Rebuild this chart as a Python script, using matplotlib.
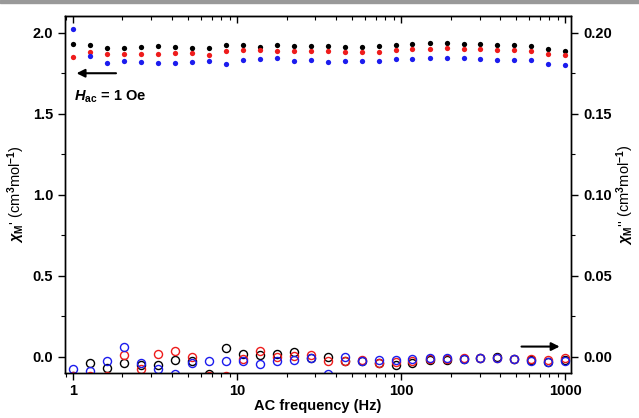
import numpy as np
import matplotlib
matplotlib.use("Agg")
import matplotlib.pyplot as plt
from matplotlib.ticker import MultipleLocator, FixedLocator, NullFormatter, LogLocator

plt.rcParams['font.family'] = ['Liberation Sans', 'DejaVu Sans']
plt.rcParams['font.weight'] = 'bold'
plt.rcParams['mathtext.fontset'] = 'custom'
plt.rcParams['mathtext.rm'] = 'Liberation Sans:bold'
plt.rcParams['mathtext.bf'] = 'Liberation Sans:bold'
plt.rcParams['mathtext.it'] = 'Liberation Sans:italic:bold'

# frequencies (Hz)
freq = [1, 1.27, 1.61, 2.04, 2.59, 3.29, 4.18, 5.30, 6.72, 8.53,
        10.8, 13.7, 17.4, 22.1, 28.1, 35.6, 45.2, 57.4, 72.8, 92.4,
        117, 149, 189, 240, 304, 386, 489, 621, 788, 1000]

# in-phase chi' (cm3 mol-1)
chi1_black = [1.928, 1.924, 1.904, 1.904, 1.910, 1.916, 1.912, 1.908, 1.906, 1.926,
              1.922, 1.914, 1.922, 1.916, 1.916, 1.916, 1.912, 1.912, 1.918, 1.926,
              1.928, 1.934, 1.934, 1.932, 1.928, 1.926, 1.924, 1.920, 1.897, 1.889]
chi1_red = [1.848, 1.883, 1.871, 1.867, 1.869, 1.871, 1.877, 1.875, 1.860, 1.887,
            1.893, 1.891, 1.889, 1.885, 1.885, 1.885, 1.881, 1.879, 1.881, 1.893,
            1.899, 1.901, 1.903, 1.901, 1.899, 1.893, 1.893, 1.887, 1.867, 1.860]
chi1_blue = [2.023, 1.854, 1.811, 1.823, 1.819, 1.813, 1.811, 1.821, 1.825, 1.809,
             1.833, 1.837, 1.842, 1.827, 1.831, 1.817, 1.825, 1.825, 1.825, 1.835,
             1.839, 1.844, 1.842, 1.842, 1.837, 1.829, 1.831, 1.829, 1.807, 1.801]

# out-of-phase chi'' (cm3 mol-1)
chi2_black = [-0.012, -0.0037, -0.0072, -0.0037, -0.0053, -0.0053, -0.0020, -0.0029, -0.0105, 0.0054,
              0.0018, 0.0008, 0.0017, 0.0029, -0.0005, -0.0004, -0.0027, -0.0029, -0.0041, -0.0049,
              -0.0037, -0.0019, -0.0017, -0.0012, -0.0010, 0.0000, -0.0016, -0.0021, -0.0030, -0.0022]
chi2_red = [-0.012, -0.012, -0.012, 0.0012, -0.0074, 0.0018, 0.0035, 0.0000, -0.012, -0.012,
            -0.0012, 0.0037, 0.0000, 0.0006, 0.0008, -0.0029, -0.0025, -0.0019, -0.0041, -0.0035,
            -0.0029, -0.0015, -0.0013, -0.0008, -0.0009, -0.0010, -0.0013, -0.0016, -0.0022, -0.0008]
chi2_blue = [-0.0074, -0.0086, -0.0027, 0.0060, -0.0041, -0.0078, -0.0105, -0.0041, -0.0027, -0.0023,
             -0.0025, -0.0045, -0.0029, -0.0017, -0.0008, -0.0105, -0.0004, -0.0029, -0.0020, -0.0020,
             -0.0012, -0.0010, -0.0010, -0.0012, -0.0008, -0.0008, -0.0014, -0.0023, -0.0031, -0.0027]

red = '#ee1c1c'
blue = '#1c1cee'

fig = plt.figure(figsize=(6.39, 4.18), dpi=100)
fig.patches.append(plt.Rectangle((0, 0.993), 1, 0.007, transform=fig.transFigure,
                                 color='#999999', zorder=0))
ax = fig.add_axes([0.1017, 0.1077, 0.792, 0.8547])
ax2 = ax.twinx()

ms_f = 3.8
ax.plot(freq, chi1_black, 'o', color='black', ms=ms_f, mec='none')
ax.plot(freq, chi1_red, 'o', color=red, ms=ms_f, mec='none')
ax.plot(freq, chi1_blue, 'o', color=blue, ms=ms_f, mec='none')

ms_o = 5.8
ax2.plot(freq, chi2_black, 'o', mfc='none', mec='black', ms=ms_o, mew=1.0)
ax2.plot(freq, chi2_red, 'o', mfc='none', mec=red, ms=ms_o, mew=1.0)
ax2.plot(freq, chi2_blue, 'o', mfc='none', mec=blue, ms=ms_o, mew=1.0)

ax.set_xscale('log')
ax.set_xlim(0.893, 1084)
ax.set_ylim(-0.1, 2.105)
ax2.set_ylim(-0.01, 0.2105)

ax.xaxis.set_major_locator(FixedLocator([1, 10, 100, 1000]))
ax.set_xticklabels(['1', '10', '100', '1000'])
ax.xaxis.set_minor_locator(LogLocator(base=10, subs=np.arange(2, 10)))
ax.xaxis.set_minor_formatter(NullFormatter())
ax.yaxis.set_minor_locator(MultipleLocator(0.25))
ax.set_yticks([0, 0.5, 1.0, 1.5, 2.0])
ax.set_yticklabels(['0.0', '0.5', '1.0', '1.5', '2.0'])
ax2.set_yticks([0, 0.05, 0.10, 0.15, 0.20])
ax2.set_yticklabels(['0.00', '0.05', '0.10', '0.15', '0.20'])
ax2.yaxis.set_minor_locator(MultipleLocator(0.025))

# top axis: inward ticks, no labels
top = ax.secondary_xaxis('top')
top.xaxis.set_major_locator(FixedLocator([1, 10, 100, 1000]))
top.xaxis.set_minor_locator(LogLocator(base=10, subs=np.arange(2, 10)))
top.xaxis.set_major_formatter(NullFormatter())
top.xaxis.set_minor_formatter(NullFormatter())
top.tick_params(which='major', direction='in', length=5, width=1)
top.tick_params(which='minor', direction='in', length=3, width=0.8)

ax.tick_params(axis='x', which='both', direction='out', top=False, labelsize=10.5, pad=3)
ax.tick_params(axis='x', which='major', length=5, width=1)
ax.tick_params(axis='x', which='minor', length=3, width=0.8)
ax.tick_params(axis='y', which='major', direction='out', length=5, width=1, labelsize=10.5)
ax.tick_params(axis='y', which='minor', direction='out', length=3, width=0.8)
ax2.tick_params(axis='y', which='major', direction='out', length=5, width=1, labelsize=10.5)
ax2.tick_params(axis='y', which='minor', direction='out', length=3, width=0.8)
for a in (ax, ax2):
    for s in a.spines.values():
        s.set_linewidth(1.0)

ax.set_xlabel('AC frequency (Hz)', fontsize=10.5, fontweight='bold', labelpad=1)
ax.set_ylabel(r"$\chi_{\mathrm{M}}$' (cm$^{3}$mol$^{-1}$)", fontsize=10.5, labelpad=4)
ax2.set_ylabel(r"$\chi_{\mathrm{M}}$'' (cm$^{3}$mol$^{-1}$)", fontsize=10.5,
               rotation=90, labelpad=2)

ax.annotate('', xy=(1.01, 1.75), xytext=(1.9, 1.75),
            arrowprops=dict(arrowstyle='-|>', color='black', lw=1.5, mutation_scale=12))
ax2.annotate('', xy=(960, 0.0063), xytext=(520, 0.0063),
             arrowprops=dict(arrowstyle='-|>', color='black', lw=1.5, mutation_scale=12))
ax.text(1.02, 1.58, r"$H_{\mathrm{ac}}$ = 1 Oe", fontsize=10.5, fontweight='bold')

fig.savefig('out.png', dpi=100)
